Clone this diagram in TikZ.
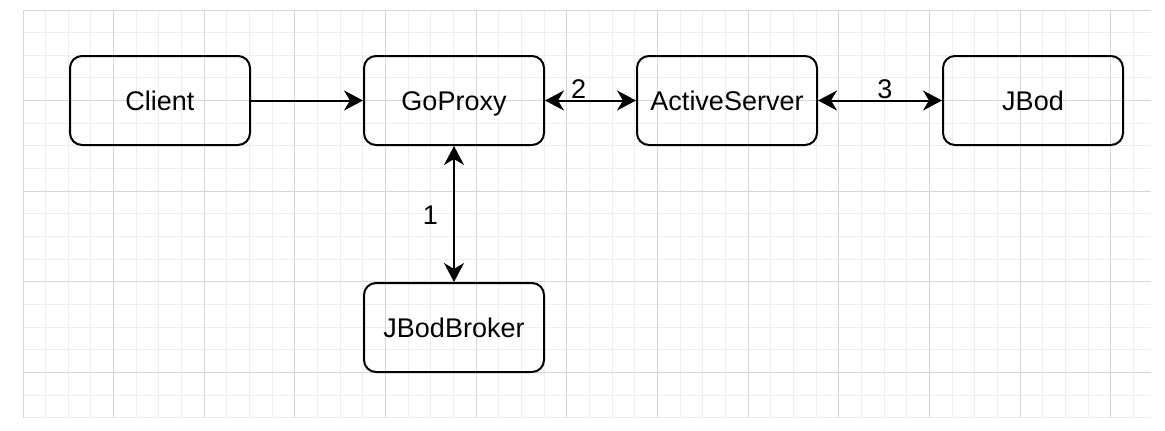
\documentclass[tikz,border=0pt]{standalone}
\usepackage{fontspec}
\setmainfont{Liberation Sans}
\usetikzlibrary{positioning,arrows.meta}
\definecolor{gridminor}{HTML}{EEEEEE}
\definecolor{gridmajor}{HTML}{D6D6D6}
\begin{document}
\begin{tikzpicture}[x=0.5pt,y=-0.5pt,auto,
  >={Stealth[length=9.5pt,width=10pt,inset=3pt]},
  main node/.style={draw,rounded corners=6pt,line width=1pt,minimum width=90pt,
    minimum height=44.5pt,inner sep=0pt,text height=9.7pt,text depth=0pt,
    font=\fontsize{13.5}{16}\selectfont},
  num label/.style={inner sep=0.5pt,font=\fontsize{13.5}{16}\selectfont},
  minor line/.style={draw=gridminor,line width=0.5pt},
  major line/.style={draw=gridmajor,line width=0.5pt}]

  \useasboundingbox (0,0) rectangle (1165,430);
  \fill[white] (0,0) rectangle (1165,430);

  % grid
  \foreach \i in {0,...,49}
    \draw[minor line] ({23+\i*22.66},10) -- ({23+\i*22.66},418);
  \foreach \j in {0,...,18}
    \draw[minor line] (23,{10+\j*22.66}) -- (1151,{10+\j*22.66});
  \foreach \i in {0,4,...,48}
    \draw[major line] ({23+\i*22.66},10) -- ({23+\i*22.66},418);
  \foreach \j in {0,4,...,16}
    \draw[major line] (23,{10+\j*22.66}) -- (1151,{10+\j*22.66});

  \node[main node] (client) at (160,100.5) {Client};
  \node[main node] (goproxy) [right=56pt of client] {GoProxy};
  \node[main node] (active) [right=45.5pt of goproxy] {ActiveServer};
  \node[main node] (jbod) [right=62pt of active] {JBod};
  \node[main node] (broker) [below=68pt of goproxy] {JBodBroker};

  \path[line width=1pt]
    (client) edge[->] (goproxy)
    (goproxy) edge[<->] node[num label,pos=0.37,above] {2} (active)
    (active) edge[<->] node[num label,pos=0.54,above] {3} (jbod)
    (goproxy) edge[<->] node[num label,pos=0.51,left=7pt] {1} (broker);

\end{tikzpicture}
\end{document}
